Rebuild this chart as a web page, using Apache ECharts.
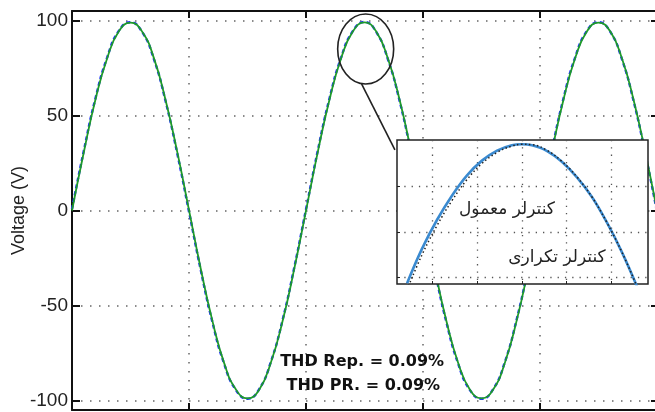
<!DOCTYPE html>
<html><head><meta charset="utf-8">
<script src="https://cdn.jsdelivr.net/npm/echarts@6/dist/echarts.min.js"></script>
<style>html,body{margin:0;padding:0;background:#fff}#c{width:655px;height:412px}</style>
</head><body><div id="c"></div>
<script>
// main chart data (time in ms, voltage in V)
const timeMs = [0,1,2,3,4,5,6,7,8,9,10,11,12,13,14,15,16,17,18,19,20,21,22,23,24,25,26,27,28,29,30,31,32,33,34,35,36,37,38,39,40,41,42,43,44,45,46,47,48,49,50];
const repVolt = [0, 30.4, 58.3, 80.0, 94.3, 98.9, 94.1, 80.2, 58.0, 30.7, 0.2, -30.5, -58.1, -80.2, -94.1, -98.9, -94.3, -80.0, -58.2, -30.6, -0.1, 30.6, 58.2, 80.1, 94.2, 99.0, 94.2, 80.0, 58.3, 30.5, 0.1, -30.6, -58.2, -80.1, -94.2, -98.9, -94.2, -80.1, -58.1, -30.6, 0.0, 30.5, 58.2, 80.1, 94.2, 98.9, 94.3, 80.1, 58.2, 30.6, 0.1];
const prVolt = [0.8, 31.2, 58.9, 80.5, 94.5, 99.1, 93.9, 79.7, 57.5, 29.9, -0.6, -31.2, -58.7, -80.6, -94.4, -99.1, -94.0, -79.6, -57.6, -29.9, 0.6, 31.3, 58.8, 80.5, 94.4, 99.2, 94.0, 79.6, 57.7, 29.8, -0.6, -31.2, -58.8, -80.5, -94.4, -99.1, -94.0, -79.7, -57.5, -29.9, 0.7, 31.2, 58.8, 80.5, 94.4, 99.1, 94.1, 79.7, 57.6, 29.9, -0.6];
const yTicks = [-100, -50, 0, 50, 100];
const xTicks = [0, 10, 20, 30, 40, 50];
const thdLines = ['THD Rep. = 0.09%', 'THD PR. = 0.09%'];

// inset (zoom on the peak)
const insetTime = [2.05, 2.43, 2.82, 3.21, 3.59, 3.98, 4.37, 4.75, 5.01, 5.27, 5.66, 6.04, 6.43, 6.82, 7.20, 7.59, 7.98];
const insetConv = [59.8, 69.4, 77.6, 84.5, 90.1, 94.3, 97.1, 98.6, 98.9, 98.6, 97.0, 94.0, 89.6, 84.0, 76.9, 68.5, 58.8];
const insetRep  = [58.0, 67.7, 76.0, 83.1, 88.9, 93.5, 96.6, 98.4, 98.9, 98.8, 97.2, 94.1, 89.7, 84.0, 76.9, 68.5, 58.8];
const insetXGrid = [2.69, 3.85, 5.03, 6.16, 7.32];
const insetYGrid = [61.6, 74.2, 87.2];
const insetLabels = ['کنترلر معمول', 'کنترلر تکراری'];

const chart = echarts.init(document.getElementById('c'), null, {renderer: 'canvas'});
const dotted = {color: '#666', width: 1.5, type: [1.5, 7.5]};
const frame = {onZero: false, lineStyle: {color: '#111', width: 2}};
const option = {
  animation: false,
  backgroundColor: '#fff',
  grid: [
    {left: 72, top: 11, right: -2, bottom: 2, show: false, containLabel: false, outerBoundsMode: 'none'},
    {left: 397, top: 140, width: 251, height: 144, show: true, backgroundColor: '#fff',
     borderColor: '#222', borderWidth: 1.5, z: 10, containLabel: false, outerBoundsMode: 'none'}
  ],
  xAxis: [
    {type: 'value', gridIndex: 0, min: xTicks[0], max: xTicks[xTicks.length - 1], interval: 10, position: 'bottom',
     axisLine: frame,
     axisTick: {inside: true, length: 7, lineStyle: {color: '#111', width: 2}},
     axisLabel: {show: false},
     splitLine: {show: true, lineStyle: dotted}},
    {type: 'value', gridIndex: 0, min: xTicks[0], max: xTicks[xTicks.length - 1], interval: 10, position: 'top',
     axisLine: frame,
     axisTick: {inside: true, length: 7, lineStyle: {color: '#111', width: 2}},
     axisLabel: {show: false}, splitLine: {show: false}},
    {type: 'value', gridIndex: 1, min: 1.79, max: 8.26, z: 11,
     axisLine: {show: false, onZero: false},
     axisTick: {show: true, inside: true, length: 3, customValues: insetXGrid, lineStyle: {color: '#222'}},
     axisLabel: {show: false},
     splitLine: {show: true, lineStyle: {color: '#555', width: 1.3, type: [1.3, 6]}}}
  ],
  yAxis: [
    {type: 'value', gridIndex: 0, min: -105, max: 105, position: 'left',
     name: 'Voltage (V)', nameLocation: 'middle', nameGap: 44, nameRotate: 90, nameMoveOverlap: false,
     nameTextStyle: {fontSize: 18, color: '#222', fontFamily: 'Liberation Sans'},
     axisLine: frame,
     axisTick: {inside: true, length: 8, customValues: yTicks, lineStyle: {color: '#111', width: 2}},
     axisLabel: {customValues: yTicks, fontSize: 19, color: '#222', fontFamily: 'Liberation Sans', margin: 4},
     splitLine: {show: true, lineStyle: dotted}},
    {type: 'value', gridIndex: 0, min: -105, max: 105, position: 'right',
     axisLine: frame,
     axisTick: {inside: true, length: 6, customValues: yTicks, lineStyle: {color: '#111', width: 2}},
     axisLabel: {show: false}, splitLine: {show: false}},
    {type: 'value', gridIndex: 1, min: 59.6, max: 100.1, z: 11,
     axisLine: {show: false, onZero: false},
     axisTick: {show: true, inside: true, length: 3, customValues: insetYGrid, lineStyle: {color: '#222'}},
     axisLabel: {show: false},
     splitLine: {show: true, lineStyle: {color: '#555', width: 1.3, type: [1.3, 6]}}}
  ],
  series: [
    {type: 'line', xAxisIndex: 0, yAxisIndex: 0, z: 2, showSymbol: false, smooth: true,
     data: timeMs.map((t, i) => [t, prVolt[i]]),
     lineStyle: {color: '#1f2fff', width: 2.4, type: [4, 3]}},
    {type: 'line', xAxisIndex: 0, yAxisIndex: 0, z: 3, showSymbol: false, smooth: true,
     data: timeMs.map((t, i) => [t, repVolt[i]]),
     lineStyle: {color: '#1e9a2a', width: 1.8}},
    {type: 'line', xAxisIndex: 2, yAxisIndex: 2, z: 12, showSymbol: false, smooth: 0.4,
     data: insetTime.map((t, i) => [t, insetConv[i]]),
     lineStyle: {color: '#3a8ad0', width: 2.6},
     markLine: {silent: true, animation: false, symbol: ['none', 'arrow'], symbolSize: 7,
       label: {show: false},
       data: [
         [{coord: [3.885, 91.4], lineStyle: {color: '#8cbce6', width: 1.2, type: 'solid'}}, {coord: [4.548, 84.1]}],
         [{coord: [7.066, 78.26], lineStyle: {color: '#444', width: 1.2, type: 'solid'}}, {coord: [5.991, 69.8]}]
       ]}},
    {type: 'line', xAxisIndex: 2, yAxisIndex: 2, z: 13, showSymbol: false, smooth: 0.4,
     data: insetTime.map((t, i) => [t, insetRep[i]]),
     lineStyle: {color: '#222', width: 1.5, type: [1.5, 2.5]}}
  ]
};
chart.setOption(option);

const pMain = (t, v) => chart.convertToPixel({gridIndex: 0}, [t, v]);
const pIn = (t, v) => chart.convertToPixel({gridIndex: 1}, [t, v]);
const ec = pMain(25.1, 85);
const l1 = pMain(24.75, 66.6), l2 = pMain(27.6, 31.9);
const th1 = pMain(24.8, -79.5), th2 = pMain(24.9, -92.1);
const tx1 = pIn(4.625, 80.4), tx2 = pIn(5.914, 66.9);
chart.setOption({
  graphic: [
    {type: 'ellipse', z: 20, shape: {cx: ec[0], cy: ec[1], rx: 28, ry: 35},
     style: {fill: 'none', stroke: '#222', lineWidth: 1.6}},
    {type: 'line', z: 20, shape: {x1: l1[0], y1: l1[1], x2: l2[0], y2: l2[1]},
     style: {stroke: '#222', lineWidth: 1.6}},
    {type: 'text', z: 20, x: th1[0], y: th1[1],
     style: {text: thdLines[0], font: 'bold 16px "DejaVu Sans"', fill: '#111', align: 'center', verticalAlign: 'middle'}},
    {type: 'text', z: 20, x: th2[0], y: th2[1],
     style: {text: thdLines[1], font: 'bold 16px "DejaVu Sans"', fill: '#111', align: 'center', verticalAlign: 'middle'}},
    {type: 'text', z: 30, x: tx1[0], y: tx1[1],
     style: {text: insetLabels[0], font: '17px "DejaVu Sans"', fill: '#222', align: 'center', verticalAlign: 'middle'}},
    {type: 'text', z: 30, x: tx2[0], y: tx2[1],
     style: {text: insetLabels[1], font: '17px "DejaVu Sans"', fill: '#222', align: 'center', verticalAlign: 'middle'}}
  ]
});
</script></body></html>
